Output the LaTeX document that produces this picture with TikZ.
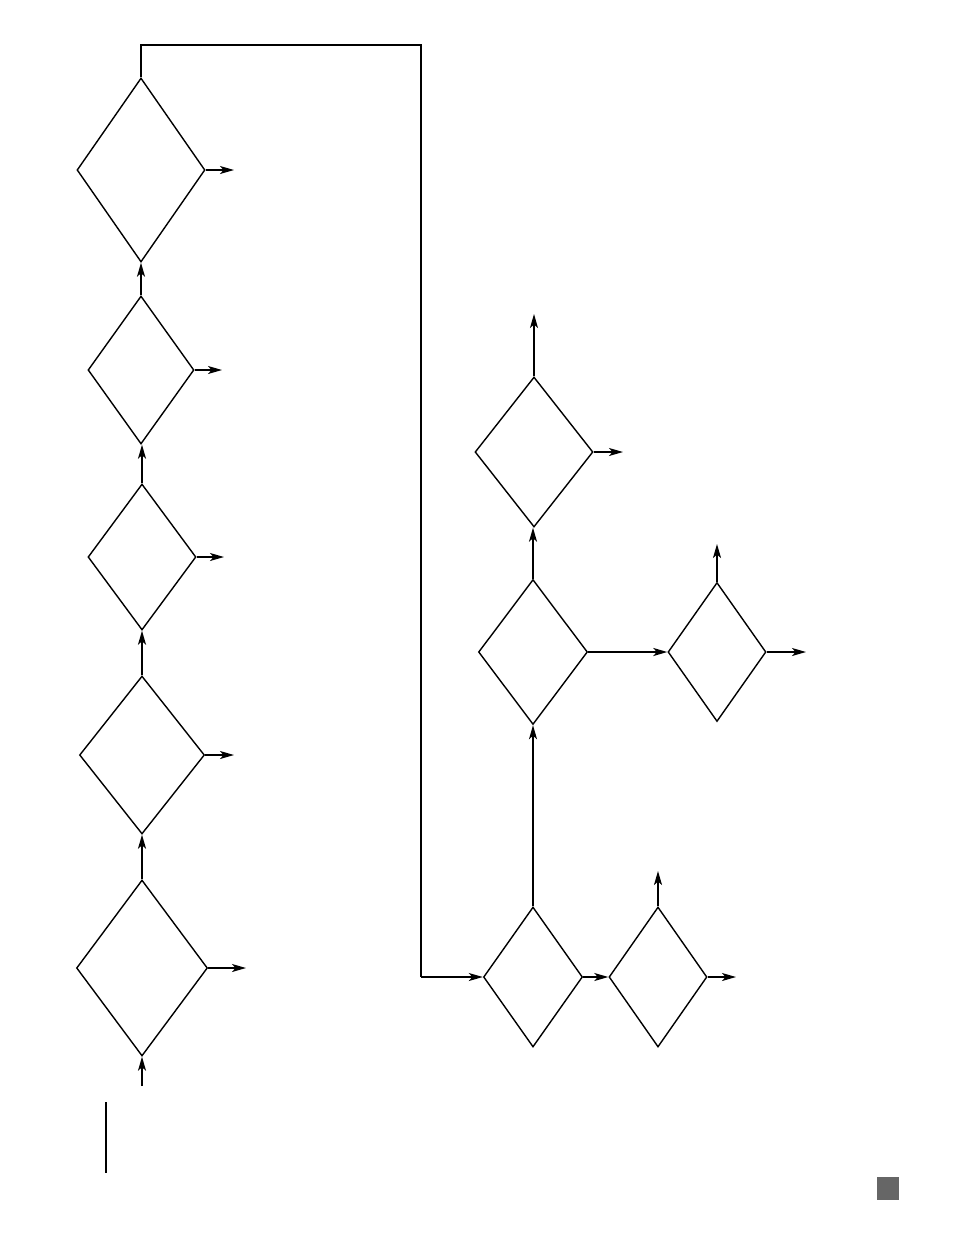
\documentclass[tikz,border=0pt]{standalone}
\usetikzlibrary{shapes.geometric,arrows.meta}
\definecolor{boxgray}{HTML}{666666}
\tikzset{
  dia/.style={shape=diamond, draw, line width=1.4pt, inner sep=0pt, line join=miter},
  arr/.style={line width=1.3pt, -{Stealth[length=14pt,width=8pt,inset=3.5pt]}},
  thickarr/.style={line width=2pt, -{Stealth[length=14pt,width=8pt,inset=3.5pt]}},
  link/.style={line width=2.2pt},
}
\begin{document}
\begin{tikzpicture}[x=1pt,y=-1pt]
\useasboundingbox (0,0) rectangle (954,1235);
% left column
\node[dia, minimum width=128pt, minimum height=184pt] (d1) at (141,170) {};
\node[dia, minimum width=106pt, minimum height=148pt] (d2) at (141,370) {};
\node[dia, minimum width=108pt, minimum height=146pt] (d3) at (142,557) {};
\node[dia, minimum width=125pt, minimum height=158pt] (d4) at (142,755) {};
\node[dia, minimum width=131pt, minimum height=176pt] (d5) at (142,968) {};
% right part
\node[dia, minimum width=99pt, minimum height=140pt] (d6) at (533,977) {};
\node[dia, minimum width=98pt, minimum height=140pt] (d7) at (658,977) {};
\node[dia, minimum width=109pt, minimum height=145pt] (d8) at (533,652) {};
\node[dia, minimum width=98pt, minimum height=139pt] (d9) at (717,652) {};
\node[dia, minimum width=118pt, minimum height=150pt] (d10) at (534,452) {};
% free ends
\coordinate (in5) at (142,1086);
\coordinate (o1) at (234,170);
\coordinate (o2) at (222,370);
\coordinate (o3) at (224,557);
\coordinate (o4) at (234,755);
\coordinate (o5) at (246,968);
\coordinate (o7) at (736,977);
\coordinate (u7) at (658,871);
\coordinate (o9) at (806,652);
\coordinate (u9) at (717,544);
\coordinate (o10) at (623,452);
\coordinate (u10) at (534,314);
\coordinate (loop) at (421,45);
% left chain
\draw[arr] (in5) -- (d5.south);
\draw[thickarr] (d5.north) -- (d4.south);
\draw[thickarr] (d4.north) -- (d3.south);
\draw[arr] (d3.north) -- (d3.north |- d2.south);
\draw[arr] (d2.north) -- (d1.south);
\draw[arr] (d1.east) -- (o1);
\draw[arr] (d2.east) -- (o2);
\draw[arr] (d3.east) -- (o3);
\draw[arr] (d4.east) -- (o4);
\draw[arr] (d5.east) -- (o5);
% loop to right part
\draw[link, line join=miter] (d1.north) |- (loop) -- (loop |- d6.west);
\draw[arr] (loop |- d6.west) -- (d6.west);
% right part
\draw[arr] (d6.east) -- (d7.west);
\draw[arr] (d7.east) -- (o7);
\draw[thickarr] (d7.north) -- (u7);
\draw[arr] (d6.north) -- (d8.south);
\draw[thickarr] (d8.east) -- (d9.west);
\draw[arr] (d9.east) -- (o9);
\draw[thickarr] (d9.north) -- (u9);
\draw[arr] (d8.north) -- (d8.north |- d10.south);
\draw[arr] (d10.east) -- (o10);
\draw[arr] (d10.north) -- (u10);
% margin marks
\coordinate (bar1) at (106,1102);
\coordinate (bar2) at (106,1173);
\draw[line width=1.3pt] (bar1) -- (bar2);
\fill[boxgray] (877,1177) rectangle (899,1200);
\end{tikzpicture}
\end{document}
